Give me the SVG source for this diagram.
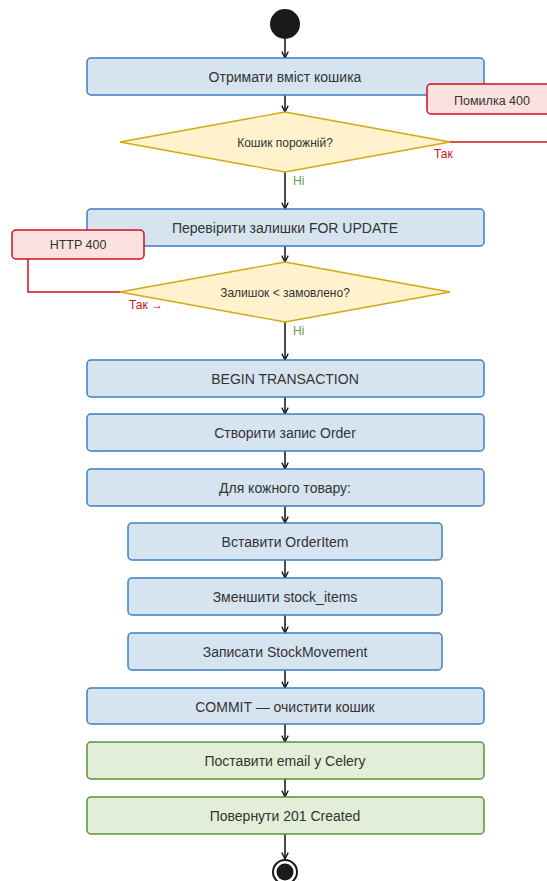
<svg xmlns="http://www.w3.org/2000/svg" width="547" height="881" viewBox="0 0 547 881">
  <style>
    text { font-family: "Liberation Sans", Arial, sans-serif; fill: #333333; text-anchor: middle; dominant-baseline: central; }
    .lbl { font-size: 14px; }
    .small { font-size: 12px; }
    .note { font-size: 12.5px; }
    .step { fill: #d6e4f0; stroke: #3d7ec4; stroke-width: 1.5; }
    .done { fill: #e2eed8; stroke: #5b8f3a; stroke-width: 1.5; }
    .err { fill: #fde0e0; stroke: #d0101a; stroke-width: 1.5; }
    .dec { fill: #fff2cc; stroke: #d4a80e; stroke-width: 1.3; }
    .flow { stroke: #111111; stroke-width: 1.5; fill: none; }
    .fail { stroke: #d0101a; stroke-width: 1.5; fill: none; }
    .yes { fill: #d0101a; font-size: 12px; text-anchor: start; }
    .no { fill: #6a9a4a; font-size: 12px; text-anchor: start; }
  </style>
  <defs>
    <marker id="arrow" viewBox="0 0 10 10" refX="9" refY="5" markerWidth="8" markerHeight="8" orient="auto" markerUnits="userSpaceOnUse">
      <path d="M1,1 L9,5 L1,9" fill="none" stroke="#111111" stroke-width="1.6"/>
    </marker>
  </defs>

  <!-- connectors -->
  <g id="connectors">
    <line class="flow" x1="285" y1="39" x2="285" y2="58" marker-end="url(#arrow)"/>
    <line class="flow" x1="285" y1="95" x2="285" y2="112" marker-end="url(#arrow)"/>
    <line class="flow" x1="285" y1="172" x2="285" y2="209" marker-end="url(#arrow)"/>
    <line class="flow" x1="285" y1="246" x2="285" y2="262" marker-end="url(#arrow)"/>
    <line class="flow" x1="285" y1="322" x2="285" y2="360" marker-end="url(#arrow)"/>
    <line class="flow" x1="285" y1="397" x2="285" y2="414" marker-end="url(#arrow)"/>
    <line class="flow" x1="285" y1="451" x2="285" y2="469" marker-end="url(#arrow)"/>
    <line class="flow" x1="285" y1="506" x2="285" y2="523" marker-end="url(#arrow)"/>
    <line class="flow" x1="285" y1="560" x2="285" y2="578" marker-end="url(#arrow)"/>
    <line class="flow" x1="285" y1="615" x2="285" y2="633" marker-end="url(#arrow)"/>
    <line class="flow" x1="285" y1="670" x2="285" y2="688" marker-end="url(#arrow)"/>
    <line class="flow" x1="285" y1="724" x2="285" y2="742" marker-end="url(#arrow)"/>
    <line class="flow" x1="285" y1="779" x2="285" y2="797" marker-end="url(#arrow)"/>
    <line class="flow" x1="285" y1="834" x2="285" y2="859" marker-end="url(#arrow)"/>
    <!-- failure branches -->
    <polyline class="fail" points="450,142 547,142"/>
    <polyline class="fail" points="120,292 28,292 28,259"/>
    <text class="yes" x="434" y="154">Так</text>
    <text class="no" x="293" y="181">Ні</text>
    <text class="yes" x="129" y="305">Так →</text>
    <text class="no" x="293" y="331">Ні</text>
  </g>

  <g id="start">
    <circle cx="285" cy="24" r="15" fill="#1a1a1a"/>
  </g>

  <g id="get-cart">
    <rect class="step" x="87" y="58" width="397" height="37" rx="4"/>
    <text class="lbl" x="285" y="77">Отримати вміст кошика</text>
  </g>

  <g id="error-400">
    <rect class="err" x="427" y="84" width="130" height="30" rx="4"/>
    <text class="note" x="492" y="101">Помилка 400</text>
  </g>

  <g id="cart-empty">
    <polygon class="dec" points="285,112 450,142 285,172 120,142"/>
    <text class="small" x="285" y="143">Кошик порожній?</text>
  </g>

  <g id="check-stock">
    <rect class="step" x="87" y="209" width="397" height="37" rx="4"/>
    <text class="lbl" x="285" y="228">Перевірити залишки FOR UPDATE</text>
  </g>

  <g id="http-400">
    <rect class="err" x="12" y="230" width="132" height="29" rx="4"/>
    <text class="note" x="78" y="245">HTTP 400</text>
  </g>

  <g id="stock-low">
    <polygon class="dec" points="285,262 450,292 285,322 120,292"/>
    <text class="small" x="285" y="293">Залишок &lt; замовлено?</text>
  </g>

  <g id="begin-tx">
    <rect class="step" x="87" y="360" width="397" height="37" rx="4"/>
    <text class="lbl" x="285" y="379">BEGIN TRANSACTION</text>
  </g>

  <g id="create-order">
    <rect class="step" x="87" y="414" width="397" height="37" rx="4"/>
    <text class="lbl" x="285" y="433">Створити запис Order</text>
  </g>

  <g id="for-each">
    <rect class="step" x="87" y="469" width="397" height="37" rx="4"/>
    <text class="lbl" x="285" y="488">Для кожного товару:</text>
  </g>

  <g id="insert-item">
    <rect class="step" x="128" y="523" width="314" height="37" rx="4"/>
    <text class="lbl" x="285" y="542">Вставити OrderItem</text>
  </g>

  <g id="decrease-stock">
    <rect class="step" x="128" y="578" width="314" height="37" rx="4"/>
    <text class="lbl" x="285" y="597">Зменшити stock_items</text>
  </g>

  <g id="stock-movement">
    <rect class="step" x="128" y="633" width="314" height="37" rx="4"/>
    <text class="lbl" x="285" y="652">Записати StockMovement</text>
  </g>

  <g id="commit">
    <rect class="step" x="87" y="688" width="397" height="36" rx="4"/>
    <text class="lbl" x="285" y="707">COMMIT — очистити кошик</text>
  </g>

  <g id="queue-email">
    <rect class="done" x="87" y="742" width="397" height="37" rx="4"/>
    <text class="lbl" x="285" y="761">Поставити email у Celery</text>
  </g>

  <g id="return-201">
    <rect class="done" x="87" y="797" width="397" height="37" rx="4"/>
    <text class="lbl" x="285" y="816">Повернути 201 Created</text>
  </g>

  <g id="end">
    <circle cx="285" cy="872" r="12" fill="#ffffff" stroke="#1a1a1a" stroke-width="2"/>
    <circle cx="285" cy="872" r="8.5" fill="#1a1a1a"/>
  </g>
</svg>
